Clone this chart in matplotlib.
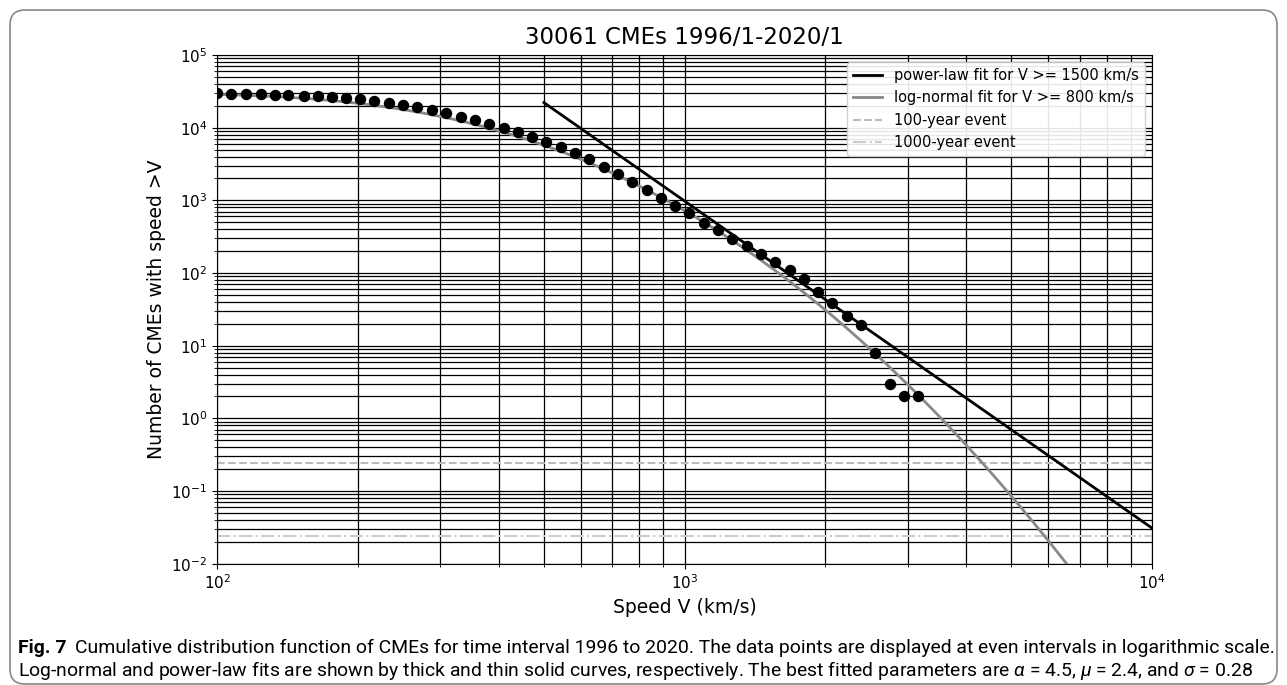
import math
import numpy as np
import matplotlib
matplotlib.use("Agg")
import matplotlib.pyplot as plt
from matplotlib.patches import FancyBboxPatch
from matplotlib.transforms import IdentityTransform

# ---------------- data ----------------
speeds = [100, 107, 115, 124, 133, 142, 153, 164, 176, 189,
          202, 217, 233, 250, 268, 288, 309, 332, 356, 382,
          410, 440, 472, 506, 543, 583, 625, 671, 720, 772,
          829, 889, 954, 1024, 1099, 1179, 1265, 1357, 1456, 1563,
          1677, 1799, 1931, 2072, 2223, 2385, 2560, 2747, 2947, 3162]
counts = [29700, 29500, 29000, 28900, 28400, 28200, 27500, 27000, 26200, 25400,
          24600, 23300, 22100, 20500, 19100, 17500, 15900, 14200, 12800, 11400,
          10000, 8630, 7430, 6340, 5360, 4480, 3660, 2900, 2300, 1800,
          1390, 1070, 844, 664, 483, 391, 294, 238, 181, 143,
          110, 83, 55, 39, 26, 19, 8, 3, 2, 2]

total_cmes = 30061
years = 24
# power-law fit parameters
pl_alpha = 4.5
pl_log_amp = 16.49
pl_vrange = [500, 10000]
# log-normal fit parameters (log10 V)
ln_mu = 2.46
ln_sigma = 0.273

title = "30061 CMEs 1996/1-2020/1"
legend_labels = ["power-law fit for V >= 1500 km/s",
                 "log-normal fit for V >= 800 km/s",
                 "100-year event", "1000-year event"]

plt.rcParams["mathtext.fontset"] = "custom"
plt.rcParams["mathtext.rm"] = "DejaVu Sans"
plt.rcParams["mathtext.it"] = "Roboto:italic"

# ---------------- figure ----------------
fig = plt.figure(figsize=(12.87, 6.85), dpi=100)
ax = fig.add_axes([0.1688, 0.1771, 0.7263, 0.7426])

# power-law line
vp = np.array(pl_vrange, dtype=float)
ax.plot(vp, 10 ** pl_log_amp * vp ** (-pl_alpha), color="black", lw=2,
        label=legend_labels[0], zorder=3)

# log-normal cumulative curve
vl = np.logspace(2, 4, 400)
surv = np.array([0.5 * math.erfc((math.log10(v) - ln_mu) / (ln_sigma * math.sqrt(2))) for v in vl])
ax.plot(vl, total_cmes * surv, color="#888888", lw=2, label=legend_labels[1], zorder=3)

# event levels
ax.axhline(years / 100, color="#bbbbbb", lw=1.5, ls="--", label=legend_labels[2], zorder=2)
ax.axhline(years / 1000, color="#cccccc", lw=1.5, ls="-.", label=legend_labels[3], zorder=2)

# data points
ax.plot(speeds, counts, "o", color="black", ms=7.2, zorder=4)

ax.set_xscale("log")
ax.set_yscale("log")
ax.set_xlim(100, 10000)
ax.set_ylim(1e-2, 1e5)
ax.grid(True, which="both", color="black", lw=0.9)
ax.set_axisbelow(True)

ax.set_title(title, fontsize=16.5, pad=8)
ax.set_xlabel("Speed V (km/s)", fontsize=13.5)
ax.set_ylabel("Number of CMEs with speed >V", fontsize=13.5)
ax.tick_params(labelsize=11)

ax.legend(loc="upper right", fontsize=10.5, framealpha=0.9)

# caption
cap_family = ["Roboto", "DejaVu Sans"]
cap_fs = 12.0
t1 = fig.text(18 / 1287, 1 - 648 / 685, "Fig. 7", fontsize=cap_fs, fontweight="bold",
              va="center", ha="left", family=cap_family)
line1 = ("Cumulative distribution function of CMEs for time interval 1996 to 2020. "
         "The data points are displayed at even intervals in logarithmic scale.")
t2 = ax.annotate(line1, xy=(1, 0.5), xycoords=t1, xytext=(6, 0), textcoords="offset points",
                 va="center", ha="left", fontsize=cap_fs, family=cap_family,
                 annotation_clip=False)
line2 = ("Log-normal and power-law fits are shown by thick and thin solid curves, respectively. "
         r"The best fitted parameters are $\alpha$ = 4.5, $\mu$ = 2.4, and $\sigma$ = 0.28")
t3 = fig.text(18 / 1287, 1 - 671 / 685, line2, fontsize=cap_fs, va="center", ha="left",
              family=cap_family)

# fit caption widths to the available space
fig.canvas.draw()
r = fig.canvas.get_renderer()
right1 = t2.get_window_extent(r).x1
scale = (1274 - 18) / (right1 - 18)
for t in (t1, t2, t3):
    t.set_fontsize(cap_fs * scale)

# rounded frame
frame = FancyBboxPatch((10, 1), 1267, 674, boxstyle="round,pad=0,rounding_size=15",
                       transform=IdentityTransform(), fill=False, edgecolor="#888888", lw=1.2)
fig.patches.append(frame)

fig.savefig("out.png", dpi=100)
